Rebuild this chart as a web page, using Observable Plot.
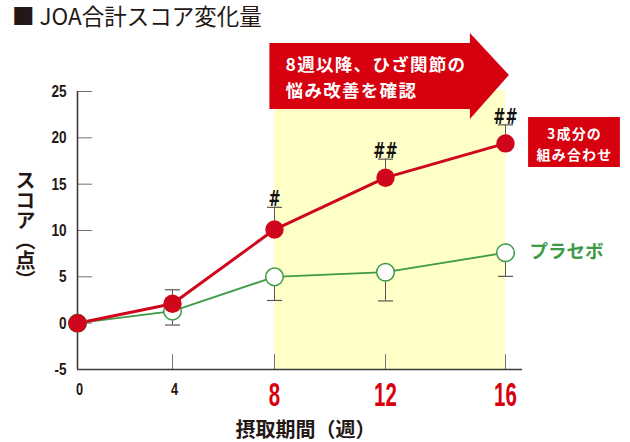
<!DOCTYPE html>
<html><head><meta charset="utf-8">
<script src="https://cdn.jsdelivr.net/npm/d3@7"></script>
<script src="https://cdn.jsdelivr.net/npm/@observablehq/plot@0.6"></script>
<style>
html,body{margin:0;padding:0;background:#fff;}
#title{height:30px;line-height:30px;padding-left:12px;font-family:"Noto Sans CJK JP";font-size:22.5px;color:#231815;white-space:nowrap;}
#chart svg{display:block;}
</style></head><body>
<div id="title">■ JOA合計スコア変化量</div>
<div id="chart"></div>
<script>
// ---- data ----
const weeks = [0, 4, 8, 12, 16];
const comboScore = [0, 2.1, 10.1, 15.7, 19.4];
const comboUpper = [null, 3.6, 12.5, 17.7, 21.4];
const placeboScore = [0, 1.3, 5.0, 5.5, 7.6];
const placeboLower = [null, -0.2, 2.45, 2.4, 5.05];
const sigMarks = ["", "", "#", "##", "##"];
const yTicks = [-5, 0, 5, 10, 15, 20, 25];
const xTicksSmall = [0, 4];
const xTicksBig = [8, 12, 16];
const highlightWeeks = [8, 16];
const comboName = "3成分の\n組み合わせ";
const placeboName = "プラセボ";
const arrowText = "8週以降、ひざ関節の\n悩み改善を確認";
const xTitle = "摂取期間（週）";
const yTitle = "スコア（点）";

// ---- styles ----
const RED = "#d7000f", DOT_RED = "#d0061c", GREEN = "#3d9a46", YELLOW = "#ffffc8";
const AXIS = "#3e3a39", TICK = "#7a7270", ERR = "#5c5552", INK = "#231815";
const JP = "Noto Sans CJK JP", NUM = "Liberation Sans";

const data = weeks.map((w, i) => ({week: w, combo: comboScore[i], comboUp: comboUpper[i],
  placebo: placeboScore[i], placeboLo: placeboLower[i], sig: sigMarks[i]}));
const errData = data.filter(d => d.comboUp != null);

const capSymbol = {draw(ctx, size) { const r = Math.sqrt(size / Math.PI); ctx.moveTo(-r, 0); ctx.lineTo(r, 0); }};

// annotation geometry in data units
const arrowPts = [
  {x: 7.82, y1: 23.06, y2: 30.18},
  {x: 14.83, y1: 23.06, y2: 30.18},
  {x: 14.83, y1: 21.98, y2: 31.26},
  {x: 16.13, y1: 26.73, y2: 26.73}
];

const svg = Plot.plot({
  width: 630, height: 412,
  marginLeft: 77, marginRight: 108, marginTop: 61, marginBottom: 73,
  x: {type: "linear", domain: [0, 4, 8, 12, 16], range: [77, 172, 274, 385, 505], axis: null},
  y: {type: "linear", domain: [-5, 25], range: [339, 61], axis: null},
  style: {overflow: "visible", background: "transparent"},
  marks: [
    Plot.rect([highlightWeeks], {x1: d => d[0], x2: d => d[1], y1: -5, y2: 25.1, fill: YELLOW}),
    Plot.areaY(arrowPts, {x: "x", y1: "y1", y2: "y2", fill: RED}),
    Plot.text([arrowText], {x: 8.4, y: 26.67, text: d => d, textAnchor: "start", fill: "white",
      fontWeight: "bold", fontSize: 17.5, lineHeight: 1.45, fontFamily: JP, ariaLabel: () => "arrowtxt"}),
    // axes
    Plot.ruleY(yTicks.filter(t => t > -5), {x1: 0, x2: 0.64, stroke: TICK, strokeWidth: 1}),
    Plot.ruleX(weeks.filter(w => w > 0), {x: d => d, y1: -5, y2: -3.4, stroke: TICK, strokeWidth: 1}),
    Plot.ruleX([0], {y1: -5, y2: 25, stroke: AXIS, strokeWidth: 1.6}),
    Plot.ruleY([-5], {x1: 0, x2: 16.57, stroke: AXIS, strokeWidth: 1.6}),
    Plot.text(yTicks, {x: 0, y: d => d, text: d => String(d), dx: -11, textAnchor: "end",
      fontSize: 17, fontWeight: "bold", fontFamily: NUM, fill: INK, ariaLabel: () => "ytl"}),
    Plot.text(xTicksSmall, {x: d => d, y: -5, text: d => String(d), dy: 20, dx: 2,
      fontSize: 17, fontWeight: "bold", fontFamily: NUM, fill: INK, ariaLabel: () => "xts"}),
    Plot.text(xTicksBig, {x: d => d, y: -5, text: d => String(d), dy: 26,
      fontSize: 33, fontWeight: "bold", fontFamily: NUM, fill: RED, ariaLabel: () => "xtb"}),
    Plot.text([xTitle], {frameAnchor: "bottom", lineAnchor: "middle", dy: 61, dx: 5.5, text: d => d,
      fontSize: 20, fontWeight: "bold", fontFamily: JP, fill: INK}),
    Plot.text([yTitle], {frameAnchor: "left", dx: -52, textAnchor: "middle", text: d => d,
      fontSize: 20, fontWeight: "bold", fontFamily: JP, fill: INK, ariaLabel: () => "ytitle"}),
    // error bars
    Plot.ruleX(errData, {x: "week", y1: "combo", y2: "comboUp", stroke: ERR, strokeWidth: 1}),
    Plot.dot(errData, {x: "week", y: "comboUp", symbol: capSymbol, r: 7.5, stroke: ERR, strokeWidth: 1.2}),
    Plot.ruleX(errData, {x: "week", y1: "placebo", y2: "placeboLo", stroke: ERR, strokeWidth: 1}),
    Plot.dot(errData, {x: "week", y: "placeboLo", symbol: capSymbol, r: 7.5, stroke: ERR, strokeWidth: 1.2}),
    // lines & points
    Plot.line(data, {x: "week", y: "placebo", stroke: GREEN, strokeWidth: 1.8}),
    Plot.line(data, {x: "week", y: "combo", stroke: DOT_RED, strokeWidth: 3}),
    Plot.dot(data, {x: "week", y: "placebo", r: 8.8, fill: "white", stroke: GREEN, strokeWidth: 1.5}),
    Plot.dot(data, {x: "week", y: "combo", r: 9.2, fill: DOT_RED}),
    Plot.text(errData, {x: "week", y: "comboUp", text: "sig", dy: -8, fontSize: 22,
      fontWeight: "bold", fontFamily: "DejaVu Sans", fill: "#111", ariaLabel: () => "sig"}),
    // legends / labels
    Plot.rect([comboName], {x1: 16.77, x2: 19.83, y1: 16.8, y2: 22.19, fill: RED}),
    Plot.text([comboName], {x: 18.3, y: 19.44, text: d => d, fill: "white", fontWeight: "bold",
      fontSize: 14, lineHeight: 1.45, fontFamily: JP, ariaLabel: () => "combotxt"}),
    Plot.text([placeboName], {x: 16.8, y: 7.63, text: d => d, textAnchor: "start", fill: GREEN,
      fontWeight: "bold", fontSize: 18.5, fontFamily: JP})
  ]
});

function squeeze(label, k) {
  svg.querySelectorAll(`text[aria-label="${label}"]`).forEach(t => {
    t.setAttribute("transform", (t.getAttribute("transform") || "") + ` scale(${k},1)`);
    t.removeAttribute("aria-label");
  });
}
function spaced(label, px) {
  svg.querySelectorAll(`text[aria-label="${label}"]`).forEach(t => {
    t.style.letterSpacing = px + "px";
    t.removeAttribute("aria-label");
  });
}
squeeze("ytl", 0.8);
squeeze("xts", 0.75);
squeeze("xtb", 0.62);
squeeze("sig", 0.66);
spaced("arrowtxt", 1.3);
spaced("combotxt", 1.2);
svg.querySelectorAll('text[aria-label="ytitle"]').forEach(t => {
  t.style.writingMode = "vertical-rl";
  t.removeAttribute("y");
  t.removeAttribute("aria-label");
});
document.getElementById("chart").appendChild(svg);
</script>
</body></html>
